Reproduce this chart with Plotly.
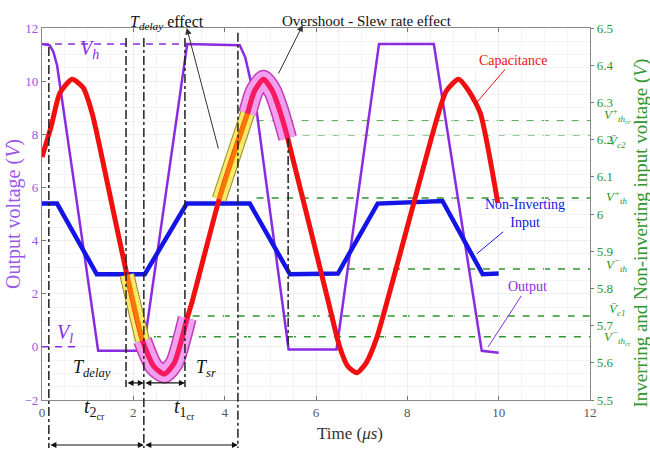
import plotly.graph_objects as go

# ---------------- data ----------------
# Output voltage (left axis, V)
out_t = [0.0, 0.17, 0.25, 0.33, 0.65, 1.23, 2.22, 3.18, 4.33, 4.45, 4.67, 5.40, 6.45, 7.38, 8.58, 9.63, 10.0]
out_v = [11.40, 11.35, 11.10, 10.60, 6.80, -0.15, -0.15, 11.40, 11.35, 10.90, 9.26, -0.10, -0.10, 11.40, 11.40, -0.15, -0.22]

# Non-inverting input (right axis, V)
ninv_t = [0.0, 0.33, 1.20, 2.25, 3.17, 4.55, 5.43, 6.48, 7.35, 8.77, 9.65, 10.0]
ninv_v = [6.028, 6.028, 5.838, 5.838, 6.028, 6.028, 5.838, 5.840, 6.028, 6.035, 5.838, 5.840]

# Capacitance (inverting input, right axis, V)
cap_t = [0.0, 0.2, 0.39, 0.66, 0.9, 1.1, 1.42, 1.86, 2.2, 2.45, 2.68, 2.9, 3.18, 3.3, 3.88, 4.22,
         4.5, 4.65, 4.85, 5.05, 5.2, 5.38, 6.26, 6.52, 6.7, 6.9, 7.1, 7.33, 7.68, 8.64, 8.85, 9.12,
         9.35, 9.6, 9.98]
cap_v = [6.153, 6.235, 6.325, 6.362, 6.34, 6.27, 6.09, 5.836, 5.66, 5.59, 5.57, 5.60, 5.72, 5.77, 6.04, 6.17,
         6.27, 6.33, 6.362, 6.33, 6.28, 6.204, 5.769, 5.642, 5.59, 5.573, 5.60, 5.667, 5.82, 6.253, 6.33, 6.362,
         6.33, 6.27, 6.03]

# right axis ticks
r_tickvals = [5.5, 5.6, 5.7, 5.8, 5.9, 6.0, 6.1, 6.2, 6.3, 6.4, 6.5]
r_ticktext = ["5.5", "5.6", "5.7", "5.8", "5.9", "6", "6.1", "6.2", "6.3", "6.4", "6.5"]

# Threshold levels (right axis) : label, value, start time of the dashed line, label y
thr_names = ["V<sup>+</sup><sub>th<sub>cr</sub></sub>", "V̄<sub>c2</sub>", "V<sup>+</sup><sub>th</sub>",
             "V<sup>−</sup><sub>th</sub>", "V̄<sub>c1</sub>", "V<sup>−</sup><sub>th<sub>cr</sub></sub>"]
thr_vals = [6.25, 6.213, 6.043, 5.852, 5.726, 5.67]
thr_start = [4.7, 5.38, 4.7, 6.7, 3.3, 2.45]
thr_label_y = [6.266, 6.196, 6.045, 5.862, 5.742, 5.668]

# Output levels (left axis)
v_high = 11.4
v_low = 0.0

# event times (vertical dash-dot markers)
ev_t = [0.15, 1.84, 2.23, 3.13, 4.29, 5.39]
ev_top = [0.949, 0.973, 0.973, 0.973, 0.987, 0.704]
ev_bot = [-0.129, 0.035, -0.129, 0.035, -0.129, 0.142]

# highlighted sections of the capacitance curve
yellow_ranges = [(1.86, 2.2), (3.88, 4.5)]
pink_ranges = [(2.2, 3.18), (4.5, 5.38)]

PURPLE = "#8a2be2"
RED = "#f01010"
BLUE = "#1414e6"
GREEN = "#2e962e"
SERIF = "Liberation Serif"

fig = go.Figure()

fig.add_trace(go.Scatter(x=ninv_t, y=ninv_v, yaxis="y2", mode="lines",
                         line=dict(color=BLUE, width=4.5), name="Non-Inverting Input",
                         showlegend=False))


def section(a, b):
    xs, ys = [], []
    for t, v in zip(cap_t, cap_v):
        if a - 1e-9 <= t <= b + 1e-9:
            xs.append(t)
            ys.append(v)
    return xs, ys


for a, b in pink_ranges:
    xs, ys = section(a, b)
    fig.add_trace(go.Scatter(x=xs, y=ys, yaxis="y2", mode="lines", showlegend=False,
                             line=dict(color="#c43cb4", width=19, shape="spline", smoothing=0.6)))
    fig.add_trace(go.Scatter(x=xs, y=ys, yaxis="y2", mode="lines", showlegend=False,
                             line=dict(color="#f29ff0", width=16, shape="spline", smoothing=0.6)))
for a, b in yellow_ranges:
    xs, ys = section(a, b)
    fig.add_trace(go.Scatter(x=xs, y=ys, yaxis="y2", mode="lines", showlegend=False,
                             line=dict(color="#9a8a20", width=15)))
    fig.add_trace(go.Scatter(x=xs, y=ys, yaxis="y2", mode="lines", showlegend=False,
                             line=dict(color="#f7ea6a", width=13)))

fig.add_trace(go.Scatter(x=cap_t, y=cap_v, yaxis="y2", mode="lines",
                         line=dict(color=RED, width=5, shape="spline", smoothing=0.6),
                         name="Capacitance", showlegend=False))

for a, b in pink_ranges:
    xs, ys = section(a, b)
    fig.add_trace(go.Scatter(x=xs, y=ys, yaxis="y2", mode="lines", showlegend=False,
                             line=dict(color="rgba(255,40,200,0.45)", width=5, shape="spline", smoothing=0.6)))
for a, b in yellow_ranges:
    xs, ys = section(a, b)
    fig.add_trace(go.Scatter(x=xs, y=ys, yaxis="y2", mode="lines", showlegend=False,
                             line=dict(color="rgba(255,200,0,0.55)", width=5)))

fig.add_trace(go.Scatter(x=out_t, y=out_v, mode="lines",
                         line=dict(color=PURPLE, width=2.5), name="Output", showlegend=False))

shapes = []
# threshold dashed lines
for v, s in zip(thr_vals, thr_start):
    shapes.append(dict(type="line", xref="x", yref="y2", x0=s, x1=12, y0=v, y1=v,
                       line=dict(color=GREEN, width=1.6, dash="7px,8px"), layer="below"))
# output level dashed lines
shapes.append(dict(type="line", xref="x", yref="y", x0=0, x1=3.15, y0=v_high, y1=v_high,
                   line=dict(color=PURPLE, width=1.5, dash="7px,6px")))
shapes.append(dict(type="line", xref="x", yref="y", x0=0, x1=0.85, y0=v_low, y1=v_low,
                   line=dict(color=PURPLE, width=1.5, dash="7px,6px")))
# event dash-dot lines
for t, y0, y1 in zip(ev_t, ev_top, ev_bot):
    shapes.append(dict(type="line", xref="x", yref="paper", x0=t, x1=t, y0=y0, y1=y1,
                       line=dict(color="#222222", width=1.5, dash="dashdot")))

ann = []


def darrow(t0, t1, ypaper):
    ann.append(dict(x=t1, y=ypaper, xref="x", yref="paper", ax=t0, ay=0, axref="x", ayref="pixel",
                    text="", showarrow=True, arrowhead=2, arrowside="end+start", arrowsize=1,
                    arrowwidth=1.2, arrowcolor="#111111", standoff=0, startstandoff=0))


darrow(ev_t[1], ev_t[2], 0.046)
darrow(ev_t[2], ev_t[3], 0.046)
darrow(ev_t[0], ev_t[2], -0.121)
darrow(ev_t[2], ev_t[4], -0.121)

txt = dict(family=SERIF, color="#111111")
ann.append(dict(x=1.1, y=0.048, xref="x", yref="paper", text="<i>T<sub>delay</sub></i>",
                showarrow=False, font=dict(size=18, **txt)))
ann.append(dict(x=3.6, y=0.048, xref="x", yref="paper", text="<i>T<sub>sr</sub></i>",
                showarrow=False, font=dict(size=18, **txt)))
ann.append(dict(x=1.16, y=-0.065, xref="x", yref="paper", text="<i>t</i><sub>2<sub>cr</sub></sub>",
                showarrow=False, font=dict(size=20, **txt)))
ann.append(dict(x=3.13, y=-0.065, xref="x", yref="paper", text="<i>t</i><sub>1<sub>cr</sub></sub>",
                showarrow=False, font=dict(size=20, **txt)))

# top labels
ann.append(dict(x=0.157, y=1.045, xref="paper", yref="paper", text="<i>T<sub>delay</sub></i> effect",
                showarrow=False, xanchor="left", font=dict(size=16, **txt)))
ann.append(dict(x=0.593, y=1.045, xref="paper", yref="paper", text="Overshoot - Slew rate effect",
                showarrow=False, font=dict(size=15, **txt)))
ann.append(dict(x=3.17, y=1.0, xref="x", yref="paper", ax=32, ay=122, text="", showarrow=True,
                arrowhead=2, arrowsize=1.3, arrowwidth=1, arrowcolor="#333333"))
ann.append(dict(x=5.71, y=1.008, xref="x", yref="paper", ax=-25, ay=50, text="", showarrow=True,
                arrowhead=2, arrowsize=1.3, arrowwidth=1, arrowcolor="#333333"))

# V_h / V_l labels
ann.append(dict(x=1.05, y=11.2, xref="x", yref="y", text="<i>V<sub>h</sub></i>", showarrow=False,
                font=dict(size=20, family=SERIF, color=PURPLE)))
ann.append(dict(x=0.5, y=0.5, xref="x", yref="y", text="<i>V<sub>l</sub></i>", showarrow=False,
                font=dict(size=20, family=SERIF, color=PURPLE)))

# series labels
ann.append(dict(x=9.52, y=6.30, xref="x", yref="y2", ax=36, ay=-42, text="Capacitance",
                showarrow=True, arrowhead=0, arrowwidth=1, arrowcolor=RED,
                font=dict(size=14, family=SERIF, color=RED)))
ann.append(dict(x=9.52, y=5.893, xref="x", yref="y2", ax=48, ay=-40, text="Non-Inverting<br>Input",
                showarrow=True, arrowhead=0, arrowwidth=1, arrowcolor=BLUE,
                font=dict(size=14, family=SERIF, color=BLUE)))
ann.append(dict(x=9.77, y=0.0, xref="x", yref="y", ax=39, ay=-60, text="Output",
                showarrow=True, arrowhead=0, arrowwidth=1, arrowcolor=PURPLE,
                font=dict(size=14, family=SERIF, color=PURPLE)))

# threshold labels on the right
for name, ly in zip(thr_names, thr_label_y):
    ann.append(dict(x=1.05, y=ly, xref="paper", yref="y2", text="<i>" + name + "</i>",
                    showarrow=False, xanchor="center", font=dict(size=13, family=SERIF, color=GREEN)))

# axis titles
ann.append(dict(x=-0.053, y=0.5, xref="paper", yref="paper", text="Output voltage (<i>V</i>)",
                textangle=-90, showarrow=False, xanchor="center",
                font=dict(size=20, family=SERIF, color="#9b55e8")))
ann.append(dict(x=1.093, y=0.45, xref="paper", yref="paper",
                text="Inverring and Non-inverting input voltage (<i>V</i>)",
                textangle=-90, showarrow=False, xanchor="center",
                font=dict(size=19, family=SERIF, color=GREEN)))
ann.append(dict(x=0.562, y=-0.09, xref="paper", yref="paper", text="Time (<i>μs</i>)",
                showarrow=False, yanchor="middle",
                font=dict(size=17, family=SERIF, color="#333333")))

fig.update_layout(
    width=650, height=453,
    margin=dict(l=42, r=60, t=28, b=53),
    paper_bgcolor="white", plot_bgcolor="white",
    showlegend=False,
    shapes=shapes, annotations=ann,
    font=dict(family=SERIF),
    xaxis=dict(range=[0, 12], dtick=2, ticks="inside", ticklen=4, tickcolor="#777",
               showline=True, linecolor="#888", linewidth=1.2, mirror="ticks",
               showgrid=True, gridcolor="#eeeeee", zeroline=False,
               minor=dict(dtick=0.5, showgrid=True, gridcolor="#f3f3f3"),
               tickfont=dict(size=13, color="#555555", family=SERIF)),
    yaxis=dict(range=[-2, 12], dtick=2, ticks="inside", ticklen=4, tickcolor="#777",
               showline=True, linecolor="#888", linewidth=1.2,
               showgrid=True, gridcolor="#eeeeee", zeroline=False,
               minor=dict(dtick=0.5, showgrid=True, gridcolor="#f3f3f3"),
               tickfont=dict(size=13, color="#9b55e8", family=SERIF)),
    yaxis2=dict(range=[5.5, 6.5], tickmode="array", tickvals=r_tickvals, ticktext=r_ticktext,
                overlaying="y", side="right",
                ticks="outside", ticklen=3, tickcolor="#777",
                showline=True, linecolor="#888", linewidth=1.2, showgrid=False, zeroline=False,
                tickfont=dict(size=13, color=GREEN, family=SERIF)),
)

fig.write_html("out.html", config={"displayModeBar": False},
               post_script="document.body.style.margin='0px';")
